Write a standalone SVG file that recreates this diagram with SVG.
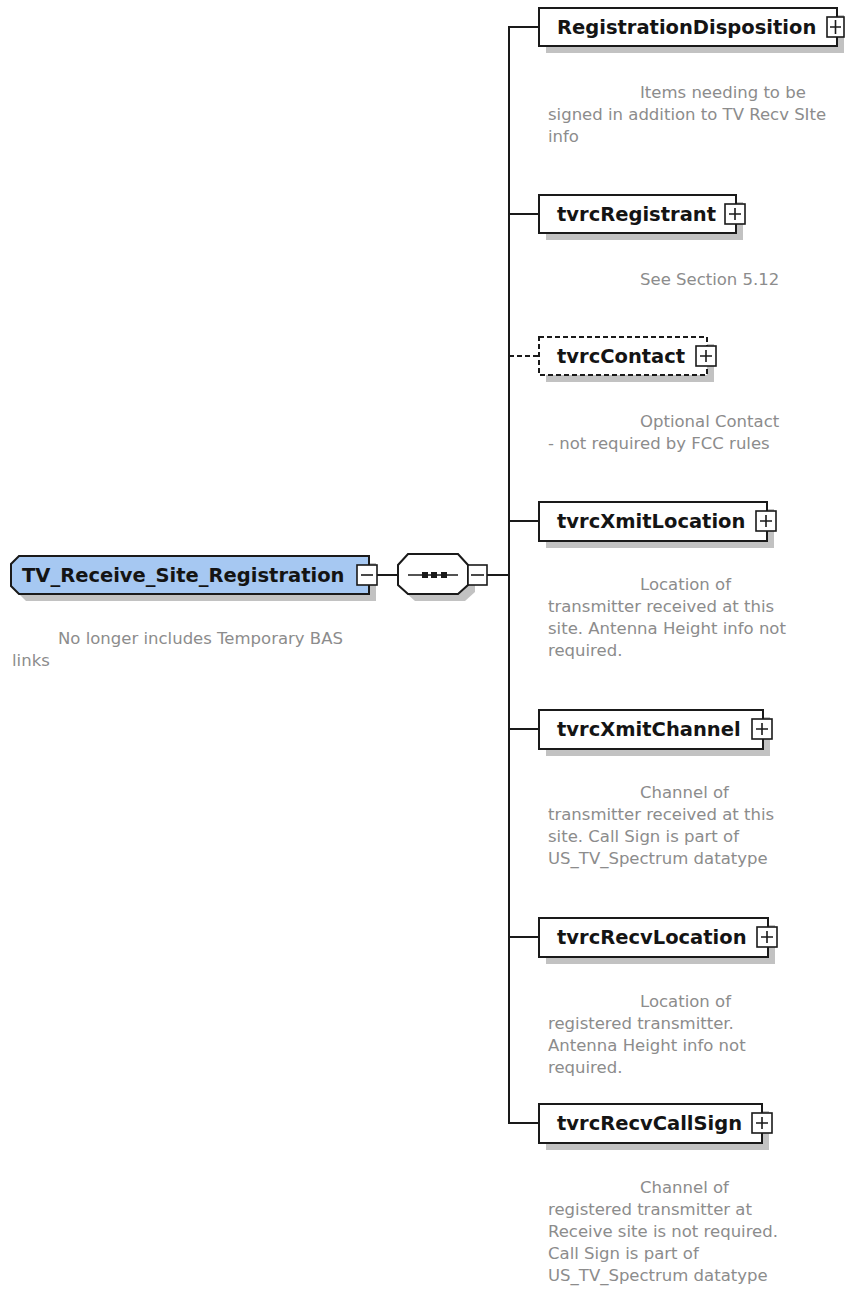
<svg xmlns="http://www.w3.org/2000/svg" width="846" height="1289" viewBox="0 0 846 1289">
  <style>
    .box { fill: #ffffff; stroke: #1a1a1a; stroke-width: 2; }
    .opt { stroke-dasharray: 5 3; }
    .root { fill: #a6c8f2; stroke: #1a1a1a; stroke-width: 2; }
    .shadow { fill: #c2c2c2; stroke: none; }
    .btn { fill: #ffffff; stroke: #1a1a1a; stroke-width: 1.6; }
    .sym { stroke: #1a1a1a; stroke-width: 1.6; fill: none; }
    .wire { stroke: #1a1a1a; stroke-width: 2; fill: none; }
    .label { font-family: "DejaVu Sans", "Liberation Sans", sans-serif; font-weight: bold; font-size: 19.5px; fill: #141414; }
    .note { font-family: "DejaVu Sans", "Liberation Sans", sans-serif; font-size: 16.5px; fill: #8c8c8c; }
  </style>

  <!-- connectors -->
  <g id="connectors">
    <line class="wire" x1="377" y1="575" x2="398" y2="575"/>
    <line class="wire" x1="487" y1="575" x2="509" y2="575"/>
    <path class="wire" d="M539,27 H509 V1123 H539"/>
    <line class="wire" x1="509" y1="214" x2="539" y2="214"/>
    <line class="wire opt" x1="509" y1="356" x2="539" y2="356"/>
    <line class="wire" x1="509" y1="521" x2="539" y2="521"/>
    <line class="wire" x1="509" y1="729" x2="539" y2="729"/>
    <line class="wire" x1="509" y1="937" x2="539" y2="937"/>
  </g>

  <!-- root element -->
  <g id="TV_Receive_Site_Registration">
    <polygon class="shadow" points="26,563 376,563 376,601 26,601 18,593 18,571"/>
    <polygon class="root" points="19,556 369,556 369,594 19,594 11,586 11,564"/>
    <text class="label" x="22" y="582">TV_Receive_Site_Registration</text>
    <rect class="btn" x="357" y="565" width="20" height="20"/>
    <line class="sym" x1="361" y1="575" x2="373" y2="575"/>
    <text class="note"><tspan x="58" y="644">No longer includes Temporary BAS</tspan><tspan x="12" y="666">links</tspan></text>
  </g>

  <!-- sequence compositor -->
  <g id="sequence">
    <polygon class="shadow" points="415,561 465,561 475,572 475,592 465,601 415,601 405,592 405,572"/>
    <polygon class="box" points="408,554 458,554 468,565 468,585 458,594 408,594 398,585 398,565"/>
    <line class="sym" x1="408" y1="575" x2="458" y2="575"/>
    <rect x="422" y="572" width="6" height="6" fill="#1a1a1a"/>
    <rect x="431" y="572" width="6" height="6" fill="#1a1a1a"/>
    <rect x="441" y="572" width="6" height="6" fill="#1a1a1a"/>
    <rect class="btn" x="468" y="565" width="19" height="20"/>
    <line class="sym" x1="471" y1="575" x2="484" y2="575"/>
  </g>

  <!-- child elements -->
  <g id="RegistrationDisposition">
    <rect class="shadow" x="546" y="15" width="298" height="38"/>
    <rect class="box" x="539" y="8" width="298" height="38"/>
    <text class="label" x="557" y="34">RegistrationDisposition</text>
    <rect class="btn" x="827" y="17" width="17" height="20"/>
    <path class="sym" d="M830,27 H841 M835.5,20 V34"/>
    <text class="note"><tspan x="640" y="98">Items needing to be</tspan><tspan x="548" y="120">signed in addition to TV Recv SIte</tspan><tspan x="548" y="142">info</tspan></text>
  </g>

  <g id="tvrcRegistrant">
    <rect class="shadow" x="546" y="202" width="197" height="38"/>
    <rect class="box" x="539" y="195" width="197" height="38"/>
    <text class="label" x="557" y="221">tvrcRegistrant</text>
    <rect class="btn" x="725" y="204" width="20" height="20"/>
    <path class="sym" d="M729,214 H741 M735,208 V220"/>
    <text class="note"><tspan x="640" y="285">See Section 5.12</tspan></text>
  </g>

  <g id="tvrcContact">
    <rect class="shadow" x="546" y="344" width="168" height="38"/>
    <rect class="box opt" x="539" y="337" width="168" height="38"/>
    <text class="label" x="557" y="363">tvrcContact</text>
    <rect class="btn" x="696" y="346" width="20" height="20"/>
    <path class="sym" d="M700,356 H712 M706,350 V362"/>
    <text class="note"><tspan x="640" y="427">Optional Contact</tspan><tspan x="548" y="449">- not required by FCC rules</tspan></text>
  </g>

  <g id="tvrcXmitLocation">
    <rect class="shadow" x="546" y="509" width="228" height="39"/>
    <rect class="box" x="539" y="502" width="228" height="39"/>
    <text class="label" x="557" y="528">tvrcXmitLocation</text>
    <rect class="btn" x="756" y="511" width="20" height="20"/>
    <path class="sym" d="M760,521 H772 M766,515 V527"/>
    <text class="note"><tspan x="640" y="590">Location of</tspan><tspan x="548" y="612">transmitter received at this</tspan><tspan x="548" y="634">site. Antenna Height info not</tspan><tspan x="548" y="656">required.</tspan></text>
  </g>

  <g id="tvrcXmitChannel">
    <rect class="shadow" x="546" y="717" width="224" height="39"/>
    <rect class="box" x="539" y="710" width="224" height="39"/>
    <text class="label" x="557" y="736">tvrcXmitChannel</text>
    <rect class="btn" x="752" y="719" width="20" height="20"/>
    <path class="sym" d="M756,729 H768 M762,723 V735"/>
    <text class="note"><tspan x="640" y="798">Channel of</tspan><tspan x="548" y="820">transmitter received at this</tspan><tspan x="548" y="842">site. Call Sign is part of</tspan><tspan x="548" y="864">US_TV_Spectrum datatype</tspan></text>
  </g>

  <g id="tvrcRecvLocation">
    <rect class="shadow" x="546" y="925" width="229" height="39"/>
    <rect class="box" x="539" y="918" width="229" height="39"/>
    <text class="label" x="557" y="944">tvrcRecvLocation</text>
    <rect class="btn" x="757" y="927" width="20" height="20"/>
    <path class="sym" d="M761,937 H773 M767,931 V943"/>
    <text class="note"><tspan x="640" y="1007">Location of</tspan><tspan x="548" y="1029">registered transmitter.</tspan><tspan x="548" y="1051">Antenna Height info not</tspan><tspan x="548" y="1073">required.</tspan></text>
  </g>

  <g id="tvrcRecvCallSign">
    <rect class="shadow" x="546" y="1111" width="223" height="39"/>
    <rect class="box" x="539" y="1104" width="223" height="39"/>
    <text class="label" x="557" y="1130">tvrcRecvCallSign</text>
    <rect class="btn" x="752" y="1113" width="20" height="20"/>
    <path class="sym" d="M756,1123 H768 M762,1117 V1129"/>
    <text class="note"><tspan x="640" y="1193">Channel of</tspan><tspan x="548" y="1215">registered transmitter at</tspan><tspan x="548" y="1237">Receive site is not required.</tspan><tspan x="548" y="1259">Call Sign is part of</tspan><tspan x="548" y="1281">US_TV_Spectrum datatype</tspan></text>
  </g>
</svg>
